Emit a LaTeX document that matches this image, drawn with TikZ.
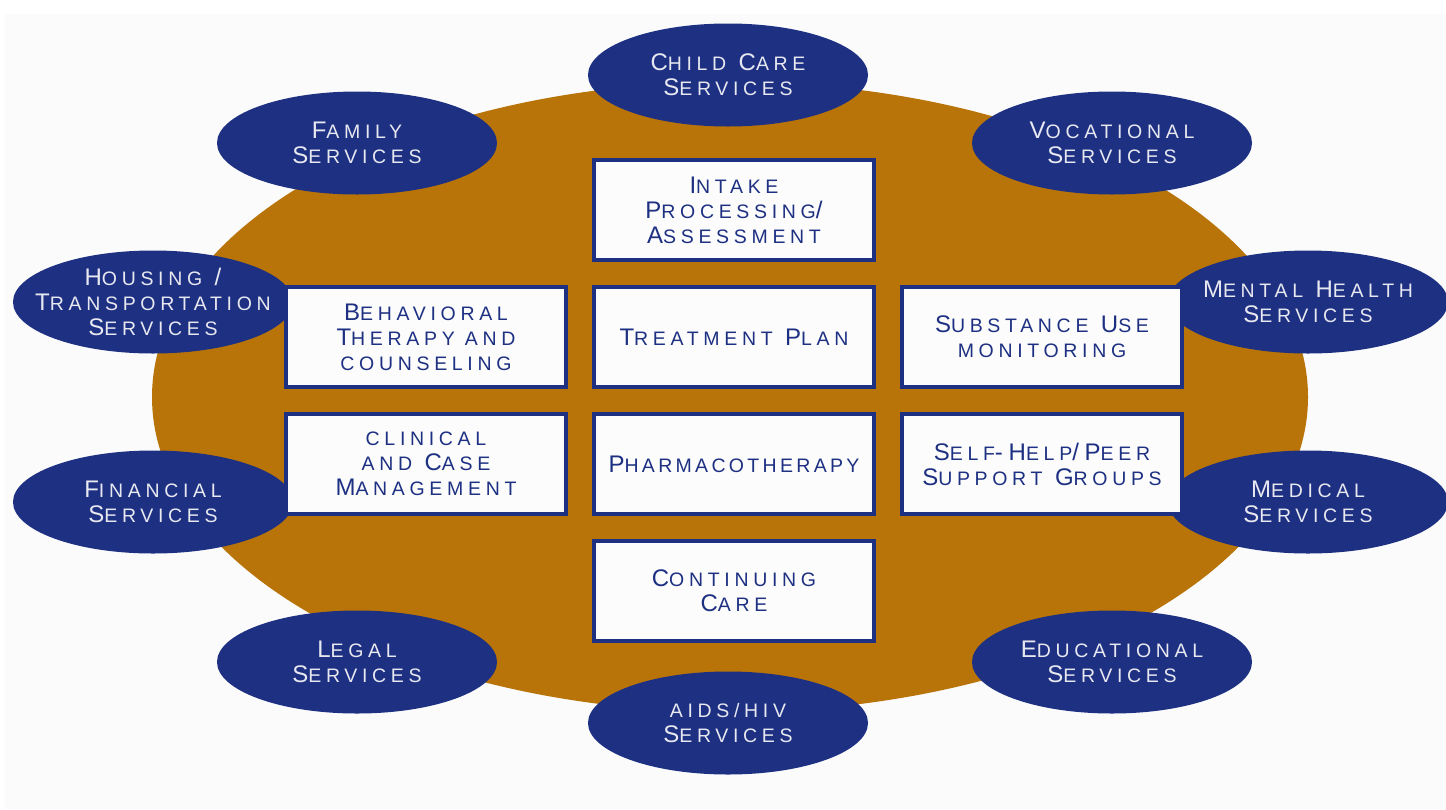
\documentclass[tikz,border=0pt]{standalone}
\usepackage{fontspec}
\setmainfont{Liberation Sans}[LetterSpace=24]
\usetikzlibrary{positioning,shapes.geometric}
\definecolor{navy}{RGB}{29,48,130}
\definecolor{ochre}{RGB}{184,116,8}
\definecolor{paper}{RGB}{251,251,251}
\definecolor{boxwhite}{RGB}{252,252,253}
\definecolor{pale}{RGB}{232,232,240}
\newcommand\lo[1]{{\fontsize{19.5}{25}\selectfont #1}}
\begin{document}
\begin{tikzpicture}[x=1pt,y=-1pt,node distance=23pt and 24pt,
  font=\fontsize{24}{25}\selectfont,
  care/.style={draw=navy,line width=4pt,fill=boxwhite,text=navy,minimum width=280pt,minimum height=100pt,align=center,inner sep=0pt},
  service/.style={ellipse,fill=navy,text=pale,minimum width=280pt,minimum height=103pt,inner xsep=-40pt,inner ysep=0pt,align=center}]
\useasboundingbox (0,0) rectangle (1446,809);
\fill[paper] (5,14) rectangle (1446,809);
\fill[ochre] (730,397) ellipse [x radius=578, y radius=315];
\node[service] (child) at (728,75) {C\lo{HILD} C\lo{ARE}\\S\lo{ERVICES}};
\node[service] (family) at (357,143) {F\lo{AMILY}\\S\lo{ERVICES}};
\node[service] (vocational) at (1112,143) {V\lo{OCATIONAL}\\S\lo{ERVICES}};
\node[service] (housing) at (153,302) {H\lo{OUSING} /\\T\lo{RANSPORTATION}\\S\lo{ERVICES}};
\node[service] (mental) at (1308,302) {M\lo{ENTAL} H\lo{EALTH}\\S\lo{ERVICES}};
\node[service] (financial) at (153,502) {F\lo{INANCIAL}\\S\lo{ERVICES}};
\node[service] (medical) at (1308,502) {M\lo{EDICAL}\\S\lo{ERVICES}};
\node[service] (legal) at (357,662) {L\lo{EGAL}\\S\lo{ERVICES}};
\node[service] (educational) at (1112,662) {E\lo{DUCATIONAL}\\S\lo{ERVICES}};
\node[service] (aids) at (728,723) {\lo{AIDS/HIV}\\S\lo{ERVICES}};
\node[care] (plan) at (734,337) {T\lo{REATMENT} P\lo{LAN}};
\node[care,above=of plan] (intake) {I\lo{NTAKE}\\P\lo{ROCESSING}/\\A\lo{SSESSMENT}};
\node[care,left=of plan] (behavioral) {B\lo{EHAVIORAL}\\T\lo{HERAPY AND}\\\lo{COUNSELING}};
\node[care,right=of plan] (substance) {S\lo{UBSTANCE} U\lo{SE}\\\lo{MONITORING}};
\node[care,below=of plan,font=\fontsize{24}{25}\selectfont\addfontfeatures{LetterSpace=17}] (pharma) {P\lo{HARMACOTHERAPY}};
\node[care,left=of pharma] (clinical) {\lo{CLINICAL}\\\lo{AND} C\lo{ASE}\\M\lo{ANAGEMENT}};
\node[care,right=of pharma] (selfhelp) {S\lo{ELF}-H\lo{ELP}/P\lo{EER}\\S\lo{UPPORT} G\lo{ROUPS}};
\node[care,below=of pharma] (continuing) {C\lo{ONTINUING}\\C\lo{ARE}};
\end{tikzpicture}
\end{document}
